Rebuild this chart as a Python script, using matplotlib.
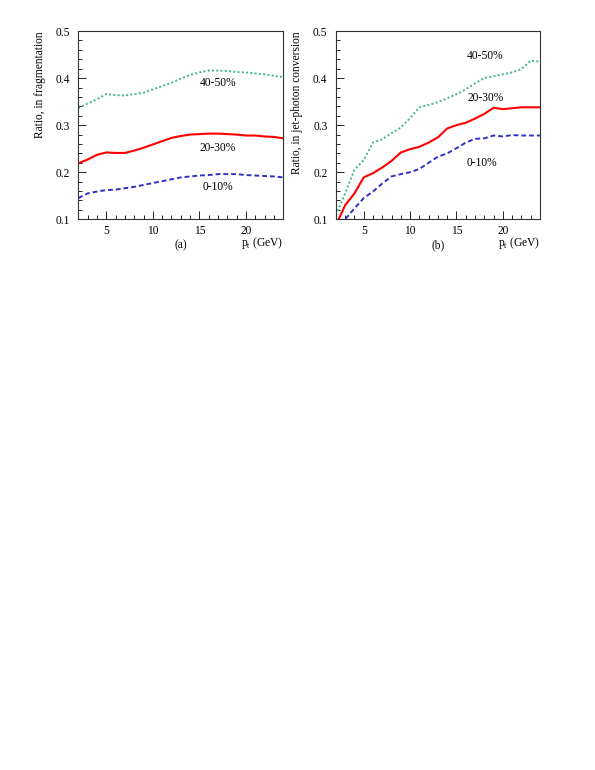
import matplotlib.pyplot as plt
from matplotlib.ticker import MultipleLocator

plt.rcParams['font.family'] = ['Liberation Serif', 'DejaVu Serif']
plt.rcParams['mathtext.fontset'] = 'custom'
plt.rcParams['mathtext.rm'] = 'Liberation Serif'

# p_t (GeV)
pt = [2, 3, 4, 5, 6, 7, 8, 9, 10, 11, 12, 13, 14, 15, 16, 17, 18, 19, 20, 21, 22, 23, 24]

# (a) ratio, in fragmentation
frag_0_10 = [0.145, 0.155, 0.159, 0.162, 0.163, 0.166, 0.169, 0.173, 0.177, 0.181, 0.185, 0.189,
             0.191, 0.193, 0.194, 0.196, 0.196, 0.196, 0.194, 0.193, 0.192, 0.191, 0.189]
frag_20_30 = [0.219, 0.227, 0.237, 0.242, 0.241, 0.241, 0.246, 0.252, 0.259, 0.266, 0.273, 0.277,
              0.280, 0.281, 0.282, 0.282, 0.281, 0.280, 0.278, 0.278, 0.276, 0.275, 0.272]
frag_40_50 = [0.336, 0.346, 0.355, 0.366, 0.364, 0.363, 0.366, 0.369, 0.376, 0.383, 0.390, 0.399,
              0.407, 0.412, 0.416, 0.416, 0.415, 0.413, 0.412, 0.410, 0.408, 0.405, 0.402]

# (b) ratio, in jet-photon conversion
conv_0_10 = [0.075, 0.100, 0.123, 0.145, 0.159, 0.176, 0.191, 0.196, 0.200, 0.207, 0.220, 0.233,
             0.240, 0.251, 0.263, 0.271, 0.272, 0.278, 0.276, 0.279, 0.278, 0.278, 0.278]
conv_20_30 = [0.087, 0.130, 0.155, 0.189, 0.198, 0.210, 0.224, 0.242, 0.249, 0.254, 0.263, 0.274,
              0.293, 0.300, 0.305, 0.314, 0.324, 0.337, 0.334, 0.336, 0.338, 0.338, 0.338]
conv_40_50 = [0.109, 0.155, 0.205, 0.226, 0.263, 0.270, 0.283, 0.295, 0.315, 0.338, 0.343, 0.349,
              0.357, 0.366, 0.376, 0.389, 0.400, 0.404, 0.408, 0.412, 0.419, 0.437, 0.435]

green = '#3db58f'
red = '#ff0000'
blue = '#3030c8'
fs = 8.3

fig = plt.figure(figsize=(5.95, 7.7), dpi=100)
ax1 = fig.add_axes([0.1316, 0.7152, 0.3445, 0.2445])
ax2 = fig.add_axes([0.5645, 0.7152, 0.343, 0.2445])

def style(ax, ylabel, tag):
    ax.set_xlim(2, 24)
    ax.set_ylim(0.1, 0.5)
    ax.xaxis.set_major_locator(MultipleLocator(5))
    ax.xaxis.set_minor_locator(MultipleLocator(1))
    ax.yaxis.set_major_locator(MultipleLocator(0.1))
    ax.yaxis.set_minor_locator(MultipleLocator(0.02))
    ax.tick_params(which='both', direction='in', top=False, right=False, labelsize=fs)
    ax.tick_params(axis='y', pad=6)
    ax.tick_params(axis='x', pad=4)
    ax.tick_params(which='major', length=6, width=0.6)
    ax.tick_params(which='minor', length=3, width=0.6)
    ax.set_yticks([0.1, 0.2, 0.3, 0.4, 0.5])
    ax.set_yticklabels(['0.1', '0.2', '0.3', '0.4', '0.5'])
    for s in ax.spines.values():
        s.set_linewidth(0.8)
        s.set_color('#333333')
    ax.set_ylabel(ylabel, loc='top', fontsize=fs, labelpad=7)
    ax.set_xlabel(r'p$_{\rm t}$ (GeV)', loc='right', fontsize=fs, labelpad=-1)
    ax.text(0.5, -0.14, tag, transform=ax.transAxes, ha='center', va='center', fontsize=fs)

ax1.plot(pt, frag_40_50, color=green, lw=1.4, ls=(0, (1, 1.2)))
ax1.plot(pt, frag_20_30, color=red, lw=1.5)
ax1.plot(pt, frag_0_10, color=blue, lw=1.4, ls=(0, (2.5, 1.5)))
ax1.text(17, 0.39, '40-50%', ha='center', va='center', fontsize=fs)
ax1.text(17, 0.251, '20-30%', ha='center', va='center', fontsize=fs)
ax1.text(17, 0.169, '0-10%', ha='center', va='center', fontsize=fs)
style(ax1, 'Ratio, in fragmentation', '(a)')

ax2.plot(pt, conv_40_50, color=green, lw=1.4, ls=(0, (1, 1.2)))
ax2.plot(pt, conv_20_30, color=red, lw=1.5)
ax2.plot(pt, conv_0_10, color=blue, lw=1.4, ls=(0, (2.5, 1.5)))
ax2.text(18.1, 0.447, '40-50%', ha='center', va='center', fontsize=fs)
ax2.text(18.1, 0.358, '20-30%', ha='center', va='center', fontsize=fs)
ax2.text(17.7, 0.22, '0-10%', ha='center', va='center', fontsize=fs)
style(ax2, 'Ratio, in jet-photon conversion', '(b)')

fig.savefig('out.png', dpi=100)
